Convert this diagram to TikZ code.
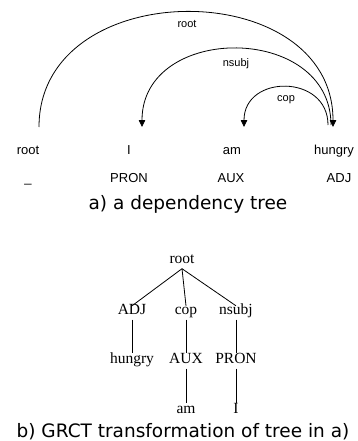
\documentclass[tikz,border=0pt]{standalone}
\usepackage{fontspec}
\setmainfont{Liberation Serif}
\newfontfamily\arialf{Liberation Sans}
\newfontfamily\dejavuf{DejaVu Sans}
\usetikzlibrary{arrows.meta}
\begin{document}
\begin{tikzpicture}[x=1pt,y=-1pt,
  word/.style={font=\arialf\fontsize{13}{15}\selectfont, anchor=base, inner sep=0pt},
  arclabel/.style={font=\arialf\fontsize{11}{13}\selectfont, inner sep=0pt},
  dep/.style={line width=0.8pt, -{Triangle[width=6.5pt,length=7pt]}},
  depplain/.style={line width=0.8pt},
  caption/.style={font=\dejavuf\fontsize{18.5}{22}\selectfont, anchor=base, inner sep=0pt},
  tnode/.style={font=\fontsize{15.5}{18}\selectfont, anchor=base, text height=10.5pt, text depth=3pt, inner xsep=1pt, inner ysep=2.5pt},
  tedge/.style={line width=0.8pt}]
\useasboundingbox (0,0) rectangle (357,441);
% words
\node[word] (w0) at (28,154) {root};
\node[word] (w1) at (129,154) {I};
\node[word] (w2) at (232,154) {am};
\node[word] (w3) at (334,154) {hungry};
\node[word] (p0) at (28,182) {\_};
\node[word] (p1) at (129,182) {PRON};
\node[word] (p2) at (231,182) {AUX};
\node[word] (p3) at (339,182) {ADJ};
% arc anchors
\coordinate (a0) at (39,127);
\coordinate (a1) at (142,127);
\coordinate (a2) at (244,127);
\coordinate (h1) at (333,127);
\coordinate (h2) at (331,125);
\coordinate (h3) at (328,125);
% arcs
\draw[dep] (a0) .. controls (39,-26) and (333,-26) .. (h1);
\draw[dep] (h2) .. controls (331,23) and (142,23) .. (a1);
\draw[dep] (h3) .. controls (328,74) and (244,74) .. (a2);
\node[arclabel] (l0) at (187,24) {root};
\node[arclabel] (l1) at (236,64) {nsubj};
\node[arclabel] (l2) at (286,100) {cop};
\node[caption] (capa) at (188,209) {a) a dependency tree};
% tree
\node[tnode] (troot) at (182,263) {root};
\node[tnode] (tadj) at (132,314) {ADJ};
\node[tnode] (tcop) at (186,314) {cop};
\node[tnode] (tnsubj) at (236,314) {nsubj};
\node[tnode] (thungry) at (132,363) {hungry};
\node[tnode] (taux) at (186,363) {AUX};
\node[tnode] (tpron) at (236,363) {PRON};
\node[tnode] (tam) at (186,413) {am};
\node[tnode] (ti) at (236,413) {I};
\draw[tedge] (troot.south) -- ([yshift=-5pt]tadj.north);
\draw[tedge] (troot.south) -- ([yshift=-5pt]tcop.north);
\draw[tedge] (troot.south) -- ([yshift=-5pt]tnsubj.north);
\draw[tedge] (tadj.south) -- ([yshift=-3pt]thungry.north);
\draw[tedge] (tcop.south) -- ([yshift=-3pt]taux.north);
\draw[tedge] (tnsubj.south) -- ([yshift=-3pt]tpron.north);
\draw[tedge] (taux.south) -- ([yshift=-3pt]tam.north);
\draw[tedge] (tpron.south) -- ([yshift=-3pt]ti.north);
\node[caption] (capb) at (183,437) {b) GRCT transformation of tree in a)};
\end{tikzpicture}
\end{document}
